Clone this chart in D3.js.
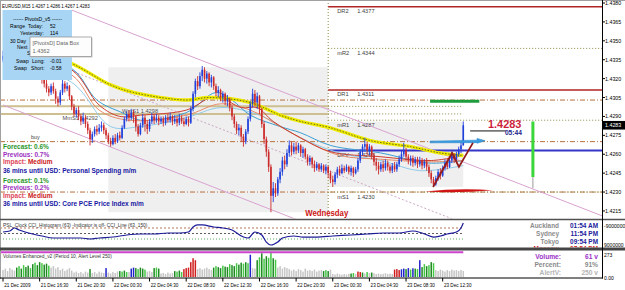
<!DOCTYPE html>
<html><head><meta charset="utf-8">
<script src="https://cdn.jsdelivr.net/npm/d3@7"></script>
<style>
html,body{margin:0;padding:0;background:#fff;overflow:hidden}
svg{display:block}
</style></head><body>
<svg id="c" width="625" height="290"></svg>
<script>
// ---------------- DATA ----------------
const closes = [
1.4338,1.4341,1.4345,1.4343,1.4347,1.4344,1.4340,1.4336,1.4338,1.4333,
1.4330,1.4334,1.4331,1.4327,1.4329,1.4325,1.4322,1.4320,1.4316,1.4312,
1.4309,1.4314,1.4310,1.4304,1.4301,1.4309,1.4316,1.4312,1.4314,1.4306,
1.4298,1.4292,1.4295,1.4290,1.4286,1.4289,1.4284,1.4279,1.4272,1.4276,
1.4280,1.4278,1.4281,1.4283,1.4279,1.4275,1.4270,1.4268,1.4273,1.4270,
1.4275,1.4273,1.4281,1.4288,1.4292,1.4289,1.4293,1.4290,1.4282,1.4276,
1.4283,1.4289,1.4284,1.4280,1.4286,1.4290,1.4287,1.4289,1.4286,1.4288,
1.4285,1.4289,1.4287,1.4290,1.4286,1.4288,1.4285,1.4289,1.4286,1.4284,
1.4288,1.4285,1.4296,1.4308,1.4318,1.4314,1.4322,1.4327,1.4320,1.4324,
1.4317,1.4321,1.4314,1.4309,1.4311,1.4305,1.4308,1.4302,1.4304,1.4297,
1.4290,1.4284,1.4279,1.4281,1.4274,1.4270,1.4278,1.4288,1.4300,1.4308,
1.4301,1.4306,1.4296,1.4284,1.4272,1.4262,1.4250,1.4227,1.4233,1.4229,
1.4240,1.4246,1.4255,1.4252,1.4261,1.4267,1.4262,1.4266,1.4263,1.4267,
1.4261,1.4264,1.4258,1.4254,1.4257,1.4252,1.4249,1.4252,1.4248,1.4251,
1.4247,1.4250,1.4245,1.4240,1.4238,1.4244,1.4248,1.4245,1.4249,1.4247,
1.4250,1.4246,1.4249,1.4245,1.4248,1.4255,1.4262,1.4266,1.4268,1.4263,
1.4266,1.4259,1.4254,1.4251,1.4248,1.4252,1.4249,1.4253,1.4250,1.4247,
1.4251,1.4248,1.4252,1.4256,1.4260,1.4263,1.4258,1.4255,1.4257,1.4253,
1.4256,1.4252,1.4255,1.4251,1.4254,1.4250,1.4245,1.4240,1.4236,1.4241,
1.4246,1.4243,1.4249,1.4253,1.4250,1.4255,1.4259,1.4256,1.4260,1.4264,
1.4267,1.4283];
const highs = [
1.4342,1.4344,1.4348,1.4349,1.4351,1.4349,1.4346,1.4342,1.4341,1.4339,
1.4335,1.4337,1.4336,1.4333,1.4332,1.4331,1.4327,1.4325,1.4322,1.4319,
1.4314,1.4316,1.4317,1.4312,1.4306,1.4311,1.4319,1.4318,1.4317,1.4315,
1.4307,1.4300,1.4297,1.4298,1.4292,1.4293,1.4291,1.4286,1.4281,1.4278,
1.4282,1.4283,1.4284,1.4286,1.4285,1.4281,1.4277,1.4273,1.4275,1.4276,
1.4277,1.4278,1.4283,1.4290,1.4294,1.4295,1.4296,1.4295,1.4291,1.4284,
1.4285,1.4292,1.4291,1.4287,1.4288,1.4293,1.4292,1.4292,1.4291,1.4290,
1.4290,1.4291,1.4292,1.4293,1.4291,1.4291,1.4290,1.4292,1.4291,1.4289,
1.4290,1.4290,1.4298,1.4310,1.4320,1.4322,1.4325,1.4330,1.4329,1.4326,
1.4325,1.4323,1.4322,1.4316,1.4314,1.4312,1.4310,1.4309,1.4307,1.4305,
1.4299,1.4292,1.4286,1.4284,1.4283,1.4276,1.4280,1.4290,1.4302,1.4312,
1.4311,1.4309,1.4307,1.4297,1.4286,1.4274,1.4264,1.4252,1.4238,1.4237,
1.4242,1.4249,1.4258,1.4259,1.4264,1.4271,1.4270,1.4269,1.4270,1.4269,
1.4268,1.4266,1.4265,1.4260,1.4259,1.4258,1.4255,1.4254,1.4253,1.4253,
1.4252,1.4252,1.4251,1.4247,1.4243,1.4246,1.4250,1.4251,1.4252,1.4251,
1.4252,1.4251,1.4251,1.4250,1.4250,1.4257,1.4264,1.4268,1.4273,1.4270,
1.4268,1.4267,1.4261,1.4257,1.4254,1.4254,1.4255,1.4256,1.4255,1.4252,
1.4253,1.4254,1.4254,1.4259,1.4263,1.4269,1.4265,1.4260,1.4259,1.4259,
1.4258,1.4258,1.4258,1.4257,1.4256,1.4257,1.4252,1.4247,1.4242,1.4243,
1.4248,1.4249,1.4251,1.4256,1.4256,1.4257,1.4262,1.4261,1.4262,1.4266,
1.4270,1.4286];
const lows = [
1.4333,1.4336,1.4339,1.4340,1.4342,1.4340,1.4337,1.4333,1.4332,1.4329,
1.4326,1.4328,1.4327,1.4323,1.4324,1.4321,1.4319,1.4316,1.4313,1.4309,
1.4306,1.4307,1.4308,1.4300,1.4298,1.4299,1.4307,1.4309,1.4310,1.4303,
1.4295,1.4290,1.4289,1.4287,1.4283,1.4284,1.4281,1.4276,1.4267,1.4269,
1.4274,1.4275,1.4276,1.4278,1.4276,1.4272,1.4268,1.4266,1.4267,1.4268,
1.4269,1.4271,1.4272,1.4280,1.4286,1.4286,1.4287,1.4285,1.4278,1.4274,
1.4275,1.4281,1.4278,1.4276,1.4278,1.4284,1.4284,1.4285,1.4283,1.4284,
1.4282,1.4283,1.4285,1.4285,1.4283,1.4284,1.4282,1.4283,1.4284,1.4282,
1.4283,1.4282,1.4284,1.4294,1.4305,1.4311,1.4312,1.4318,1.4317,1.4316,
1.4314,1.4313,1.4311,1.4306,1.4305,1.4302,1.4301,1.4299,1.4298,1.4294,
1.4287,1.4281,1.4276,1.4275,1.4270,1.4266,1.4268,1.4276,1.4286,1.4297,
1.4298,1.4296,1.4292,1.4281,1.4268,1.4258,1.4246,1.4214,1.4222,1.4226,
1.4227,1.4237,1.4243,1.4248,1.4250,1.4258,1.4259,1.4260,1.4260,1.4261,
1.4258,1.4257,1.4256,1.4251,1.4251,1.4249,1.4246,1.4247,1.4246,1.4246,
1.4245,1.4244,1.4241,1.4237,1.4234,1.4236,1.4241,1.4243,1.4244,1.4245,
1.4246,1.4244,1.4243,1.4242,1.4244,1.4246,1.4253,1.4259,1.4262,1.4260,
1.4259,1.4256,1.4251,1.4247,1.4244,1.4246,1.4246,1.4247,1.4247,1.4245,
1.4245,1.4246,1.4246,1.4250,1.4254,1.4258,1.4255,1.4252,1.4251,1.4250,
1.4251,1.4249,1.4250,1.4248,1.4249,1.4247,1.4242,1.4237,1.4234,1.4235,
1.4239,1.4240,1.4242,1.4247,1.4248,1.4249,1.4253,1.4253,1.4254,1.4258,
1.4261,1.4267];
const firstOpen = 1.4335;

const volumes = [
70,85,60,90,75,65,95,110,85,120,
100,115,90,130,145,120,150,140,125,135,
115,95,110,85,100,70,85,60,75,90,
65,45,55,40,50,35,55,45,80,40,
50,35,55,45,40,90,45,35,50,40,
55,60,55,65,50,50,85,95,90,80,
95,85,75,55,60,50,90,95,85,35,
40,30,45,35,40,60,55,65,50,80,
90,95,150,190,170,80,90,75,85,95,
80,70,95,110,100,90,115,105,100,130,
120,110,140,125,145,135,150,140,225,90,
85,170,200,240,185,210,195,255,190,175,
95,110,85,100,90,80,65,75,60,80,
70,55,85,65,70,60,75,55,65,70,
60,70,60,75,30,25,35,28,22,30,
25,32,35,40,30,55,50,45,35,50,
40,45,38,30,35,28,32,38,30,34,
29,75,80,70,78,85,80,90,75,88,
85,80,170,100,130,110,120,150,140,70,
60,75,65,55,70,60,75,65,70,60,
72,61];
// 0 normal, 1 rising, 2 rising (light), 3 climax low-range, 4 climax high
const volTypes = [
0,0,0,0,0,0,1,2,1,2, 1,1,2,1,2,1,1,2,1,1, 2,0,0,0,0,0,0,0,0,0,
0,0,0,0,0,0,0,0,1,0, 0,0,0,0,0,3,0,0,0,0, 0,1,2,1,2,0,3,3,1,2,
1,1,2,0,0,0,1,2,1,0, 0,0,0,0,0,1,2,1,2,4, 4,4,4,4,4,0,0,0,0,0,
0,0,1,2,1,1,2,1,1,2, 1,1,2,1,1,2,1,2,3,0, 0,1,2,1,2,1,2,2,1,2,
0,0,0,0,0,0,0,0,0,0, 0,0,0,0,0,0,0,0,0,0, 1,2,1,0,0,0,0,0,0,0,
0,0,1,2,0,4,4,1,0,2, 0,1,0,0,0,0,0,0,0,0, 0,4,4,4,3,3,1,3,2,3,
1,2,3,1,2,1,2,1,2,0, 0,0,0,0,0,0,0,0,0,0, 0,0];

const cciBars = [0,3,5,7,13,17,22,28,34,38,42,48,54,60,66,72,77,81,83,85,87,92,96,100,105,107,110,113,115,117,120,122,127,131,137,144,152,159,166,173,179,183,188,191,194,198,200,201];
const cciVals = [27,45,100,64,-9,-45,-82,-82,-82,-100,-82,-64,-27,-9,-9,9,9,27,118,155,155,118,100,64,-64,-82,27,-27,-155,-209,-155,-82,-45,-64,-64,-45,-27,-9,9,9,45,9,-64,-45,-9,27,100,191];
const cciLevels = [100, 0, -100];

// moving averages: [bar, price]
const maSlow  = [[0,1.4352],[30,1.4332],[47,1.4315],[57,1.4309],[80,1.4303],[90,1.4305],[108,1.4301],[121,1.4291],[130,1.4286],[143,1.4281],[160,1.4271],[178,1.4266],[191,1.4261],[201,1.4259]];
const maRed1  = [[0,1.4345],[30,1.4327],[42,1.4299],[51,1.4290],[60,1.4291],[80,1.4295],[93,1.4306],[104,1.4297],[111,1.4297],[118,1.4286],[130,1.4273],[143,1.4262],[165,1.4258],[187,1.4255],[201,1.4259]];
const maRed2  = [[0,1.4340],[30,1.4323],[42,1.4295],[55,1.4287],[80,1.4291],[95,1.4300],[108,1.4295],[121,1.4282],[134,1.4269],[147,1.4259],[165,1.4256],[186,1.4254],[201,1.4255]];
const maCyan1 = [[0,1.4342],[30,1.4328],[41,1.4303],[52,1.4293],[60,1.4287],[80,1.4293],[93,1.4309],[100,1.4303],[108,1.4291],[121,1.4282],[130,1.4277],[143,1.4267],[165,1.4261],[186,1.4253],[201,1.4255]];
const maCyan2 = [[0,1.4335],[30,1.4317],[47,1.4282],[60,1.4282],[80,1.4289],[95,1.4297],[112,1.4291],[130,1.4273],[147,1.4261],[165,1.4255],[182,1.4247],[201,1.4251]];

const pivotNames = ["DR2","mR2","DR1","mR1","DPV","mS1"];
const pivotVals  = [1.4377,1.4344,1.4311,1.4287,1.4263,1.4230];
const longNames  = ["WmS1","MmS1"];
const longVals   = [1.4298,1.4292];
const longLabelBars = [52,26];
const dashLevels = [1.4303,1.4270,1.4230];
const dayStartBar = 142;
const dayRanges = [[46,142,1.4329,1.4214],[142,201,1.4286,1.4234]];

const channelUpper = [[30,1.43744],[270,1.42052]];
const channelLower = [[0,1.42991],[140,1.41998]];
const channelMid   = [[0,1.43473],[199.6,1.42063]];

const zigzag    = [[187.8,1.4234],[196.1,1.4261],[199.1,1.4250],[205.2,1.4269]];
const greenSeg  = [[186.5,1.4302],[208,1.4302]];
const blueArrow = [[186.5,1.4270],[210.5,1.4270]];
const redSeg    = [[184.3,1.4231],[214,1.4231]];
const greenBar  = [231.4,1.4286,1.4242,1.4233];
const lastLine  = [[204,1.42785],[219.6,1.42785]];

const priceTicks = [1.4380,1.4365,1.4350,1.4335,1.4320,1.4305,1.4290,1.4275,1.4260,1.4245,1.4230,1.4215];
const lastPrice = 1.4283;
const timeLabels = ["21 Dec 2009","21 Dec 16:30","21 Dec 20:30","22 Dec 00:30","22 Dec 04:30","22 Dec 08:30","22 Dec 12:30","22 Dec 16:30","22 Dec 20:30","23 Dec 00:30","23 Dec 04:30","23 Dec 08:30","23 Dec 12:30"];
const timeLabelBars = [0,16,32,48,64,80,96,112,128,144,160,176,192];

const newsLines = [
 ["Forecast: ","0.6%","f"],["Previous: ","0.7%","p"],["Impact: ","Medium","i"],["36 mins until USD: Personal Spending m/m","","t"],
 ["Forecast: ","0.1%","f"],["Previous: ","0.2%","p"],["Impact: ","Medium","i"],["36 mins until USD: Core PCE Price Index m/m","","t"]];
const clockCities = ["Auckland","Sydney","Tokyo","Moscow"];
const clockTimes  = ["01:54 AM","11:54 PM","09:54 PM","07:54 PM"];

// ---------------- SCALES ----------------
const svg = d3.select("#c");
const FONT = '"Liberation Sans", Arial, sans-serif';
const xS = d3.scaleLinear().domain([0,201]).range([3,463.29]);
const yS = d3.scaleLinear().domain([1.42094,1.43824]).range([218,0]);
const cS = d3.scaleLinear().domain([-245,245]).range([247,220]);
const vS = d3.scaleLinear().domain([0,273]).range([277,250]);

function T(p,x,y,s,o={}){
  return p.append("text").attr("transform",`translate(${x},${y}) scale(${o.sx||1},1)`)
   .attr("font-family",FONT).attr("font-size",o.size||6).attr("fill",o.color||"#000")
   .attr("font-weight",o.weight||"normal").attr("text-anchor",o.anchor||"start").text(s);
}
const defs = svg.append("defs");
function clip(id,x,y,w,h){defs.append("clipPath").attr("id",id).append("rect").attr("x",x).attr("y",y).attr("width",w).attr("height",h);}
clip("cm",0,1,602,217.5); clip("cc",0,220.5,602,27); clip("cv",0,251,602,26.5);

svg.append("rect").attr("width",625).attr("height",290).attr("fill","#fff");

// ---------------- MAIN PANEL ----------------
const m = svg.append("g").attr("clip-path","url(#cm)");
dayRanges.forEach(r=>{
  m.append("rect").attr("x",xS(r[0])).attr("width",xS(r[1])-xS(r[0]))
   .attr("y",yS(r[2])).attr("height",yS(r[3])-yS(r[2])).attr("fill","#efefef");
});
m.append("line").attr("x1",xS(dayStartBar)).attr("x2",xS(dayStartBar)).attr("y1",0).attr("y2",218)
 .attr("stroke","#8c8c46").attr("stroke-dasharray","1,2");

// long-term pivots
longVals.forEach((v,k)=>{
  m.append("line").attr("x1",0).attr("x2",xS(dayStartBar)).attr("y1",yS(v)).attr("y2",yS(v))
   .attr("stroke","#cdbf90").attr("stroke-width",2);
  m.append("line").attr("x1",xS(dayStartBar)).attr("x2",xS(201)).attr("y1",yS(v)).attr("y2",yS(v))
   .attr("stroke","#8c8c46").attr("stroke-dasharray","1,2");
  T(m,xS(longLabelBars[k]),yS(v)+6.5,longNames[k]+"  "+v.toFixed(4),{size:6.2,sx:0.92,color:"#505050"});
});
// dash-dot levels
dashLevels.forEach(v=>{
  m.append("line").attr("x1",0).attr("x2",602).attr("y1",yS(v)).attr("y2",yS(v))
   .attr("stroke","#b8703c").attr("stroke-dasharray","5,2,1,2");
});
T(m,31,yS(dashLevels[1])-2.2,"buy",{size:6,sx:0.9,color:"#404040"});
// daily pivots
pivotNames.forEach((n,k)=>{
  const v=pivotVals[k], y=yS(v);
  const l=m.append("line").attr("x1",xS(dayStartBar)).attr("x2",602).attr("y1",y).attr("y2",y);
  if(n==="DPV") l.attr("stroke","#3535c8").attr("stroke-width",2);
  else if(n[0]==="D") l.attr("stroke","#b02525").attr("stroke-width",1.5);
  else l.attr("stroke","#8c8c46").attr("stroke-dasharray","1,2");
  T(m,xS(dayStartBar)+9,y+6.5,n,{size:6.2,sx:0.92,color:"#404040"});
  T(m,xS(dayStartBar)+29,y+6.5,v.toFixed(4),{size:6.2,sx:0.92,color:"#404040"});
});
// channel
const lg = d3.line().x(d=>xS(d[0])).y(d=>yS(d[1]));
m.append("path").attr("d",lg(channelUpper)).attr("stroke","#d8a2d0").attr("fill","none");
m.append("path").attr("d",lg(channelLower)).attr("stroke","#d8a2d0").attr("fill","none");
m.append("path").attr("d",lg(channelMid)).attr("stroke","#c9a9c4").attr("fill","none").attr("stroke-dasharray","2,2");

// MAs
const cg = d3.line().x(d=>xS(d[0])).y(d=>yS(d[1])).curve(d3.curveCatmullRom.alpha(0.5));
[[maCyan2,"#8fcbe8"],[maCyan1,"#3d9fd2"],[maRed2,"#e58b6b"],[maRed1,"#cc4030"]].forEach(([d,c])=>{
  m.append("path").attr("d",cg(d)).attr("stroke",c).attr("fill","none").attr("stroke-width",1);
});
m.append("path").attr("d",cg(maSlow)).attr("stroke","#efeb00").attr("fill","none").attr("stroke-width",3.4);
m.append("path").attr("d",cg(maSlow)).attr("stroke","#4a4a20").attr("fill","none").attr("stroke-width",0.8).attr("stroke-dasharray","1.5,1.5");

// candles
const bars = closes.map((c,i)=>({i,o:i?closes[i-1]:firstOpen,c,h:highs[i],l:lows[i]}));
const cd = m.append("g");
bars.forEach(b=>{
  const col = b.c>=b.o ? "#2040dc" : "#cc2a2a";
  const x = xS(b.i);
  cd.append("line").attr("x1",x).attr("x2",x).attr("y1",yS(Math.max(b.h,b.o,b.c))).attr("y2",yS(Math.min(b.l,b.o,b.c)))
    .attr("stroke",col).attr("stroke-width",0.9);
  const yt=yS(Math.max(b.o,b.c)), yb=yS(Math.min(b.o,b.c));
  cd.append("rect").attr("x",x-0.8).attr("width",1.6).attr("y",yt).attr("height",Math.max(0.8,yb-yt)).attr("fill",col);
});

// drawn objects
m.append("path").attr("d",lg(greenSeg)).attr("stroke","#1f9c3e").attr("stroke-width",3).attr("fill","none");
{
  const y=yS(blueArrow[0][1]), xa=xS(blueArrow[0][0]), xt=xS(blueArrow[1][0]), xh=xt-8;
  m.append("path").attr("d",`M${xa},${y-0.5} L${xh},${y-1.5} L${xh},${y-3.2} L${xt},${y-1} L${xh},${y+1.6} L${xh},${y+1} L${xa},${y+1.2} Z`)
   .attr("fill","#3a9ee0").attr("stroke","#2a86cc").attr("stroke-width",0.6);
}
{
  const y=yS(redSeg[0][1]), xa=xS(redSeg[0][0]), xb=xS(redSeg[1][0]);
  m.append("path").attr("d",`M${xa},${y+0.8} Q${(xa+xb)/2},${y-3.2} ${xb},${y-0.6} Q${(xa+xb)/2},${y+2.4} ${xa},${y+0.8} Z`)
   .attr("fill","#d01414");
}
m.append("path").attr("d",lg(zigzag)).attr("stroke","#951c1c").attr("stroke-width",1.8).attr("fill","none");
m.append("line").attr("x1",xS(greenBar[0])).attr("x2",xS(greenBar[0])).attr("y1",yS(greenBar[2])).attr("y2",yS(greenBar[3]))
 .attr("stroke","#9a9a9a").attr("stroke-width",1);
m.append("line").attr("x1",xS(greenBar[0])).attr("x2",xS(greenBar[0])).attr("y1",yS(greenBar[1])).attr("y2",yS(greenBar[2]))
 .attr("stroke","#3ad63a").attr("stroke-width",3);
m.append("path").attr("d",lg(lastLine)).attr("stroke","#111").attr("stroke-width",1);
T(m,xS(211.8),yS(lastPrice)+2.8,lastPrice.toFixed(4),{size:11.5,weight:"bold",color:"#cc1f3c",sx:0.95});
T(m,xS(219.6)-1,yS(lastLine[0][1])+4.3,"05:44",{size:6.8,weight:"bold",color:"#1e1e8e",sx:0.98});

T(m,xS(dayStartBar)-23,216,"Wednesday",{size:8.2,weight:"bold",color:"#cc1414",sx:0.95});

// news
const newsY=[149,156.5,164,172.5,182.5,189.5,198,205.5];
const newsCol={f:["#2a962a","#2a962a"],p:["#9c2fc0","#9c2fc0"],i:["#e0485a","#cc2020"],t:["#1818a4","#1818a4"]};
newsLines.forEach((n,k)=>{
  const t=T(m,3,newsY[k],"",{size:7,weight:"bold",sx:0.93});
  t.append("tspan").attr("fill",newsCol[n[2]][0]).text(n[0]);
  if(n[1]) t.append("tspan").attr("fill",newsCol[n[2]][1]).text(n[1]);
});

// info box
m.append("rect").attr("x",2.5).attr("y",10).attr("width",69.5).attr("height",70).attr("fill","#a8d5f3");
const bx = m.append("g");
T(bx,37.5,20.7,"------  PivotsD_v5  ------",{size:6,anchor:"middle",sx:0.85});
T(bx,10,28,"Range",{size:6,sx:0.85}); T(bx,28,28,"Today:",{size:6,sx:0.85}); T(bx,50,28,"52",{size:6,sx:0.85});
T(bx,20,35,"Yesterday:",{size:6,sx:0.85}); T(bx,50,35,"114",{size:6,sx:0.85});
T(bx,10,42.5,"30 Day",{size:6,sx:0.85});
T(bx,17,48.5,"Next",{size:6,sx:0.85});
T(bx,27,55,"S",{size:6,sx:0.85});
T(bx,16,63,"Swap",{size:6,sx:0.85}); T(bx,32,63,"Long:",{size:6,sx:0.85}); T(bx,50,63,"-0.01",{size:6,sx:0.85});
T(bx,14,69.5,"Swap",{size:6,sx:0.85}); T(bx,31,69.5,"Short:",{size:6,sx:0.85}); T(bx,50,69.5,"-0.58",{size:6,sx:0.85});
// tooltip
m.append("rect").attr("x",31).attr("y",38).attr("width",61.5).attr("height",19.5).attr("fill","#c8c8c8");
m.append("rect").attr("x",30).attr("y",37).attr("width",61.5).attr("height",19.5).attr("fill","#fdfdfd").attr("stroke","#8a8a8a").attr("stroke-width",0.7);
T(m,32.5,44.5,"[PivotsD] Data Box",{size:6.2,sx:0.9,color:"#666"});
T(m,32.5,52.5,"1.4362",{size:6.2,sx:0.9,color:"#666"});
// title
T(svg,2,7.5,"EURUSD,M15  1.4267 1.4286 1.4267 1.4283",{size:6,sx:0.74,color:"#000"});

// ---------------- CCI PANEL ----------------
const cc = svg.append("g").attr("clip-path","url(#cc)");
const cciCols=["#a0522d","#333","#3a9a3a"];
cciLevels.forEach((v,k)=>{
  cc.append("line").attr("x1",0).attr("x2",xS(201)).attr("y1",cS(v)).attr("y2",cS(v))
    .attr("stroke",cciCols[k]).attr("stroke-dasharray",k==2?"1,2":"2,2").attr("stroke-width",0.8);
});
cc.append("path").attr("d",d3.line().x((d,i)=>xS(cciBars[i])).y(d=>cS(d)).curve(d3.curveMonotoneX)(cciVals))
  .attr("stroke","#1a1a98").attr("stroke-width",1.2).attr("fill","none");
T(cc,3,226.5,"PSL_Clock   CCI_Histogram (63)   -Indicator is off-   CCI_Line (63, 150)",{size:5.6,sx:0.86,color:"#333"});
clockCities.forEach((c,k)=>{
  const y=228.3+k*7.6;
  T(cc,559,y,c,{size:7,weight:"bold",anchor:"end",sx:0.92,color:k==3?"#cc2222":"#8c8c8c"});
  T(cc,598,y,clockTimes[k],{size:7,weight:"bold",anchor:"end",sx:0.92,color:k==3?"#cc2222":"#1c1c9c"});
});

// ---------------- VOLUME PANEL ----------------
const vv = svg.append("g").attr("clip-path","url(#cv)");
const vCols=["#c6c6c6","#1f8a22","#45c945","#2222cc","#d01e1e"];
volumes.forEach((v,i)=>{
  vv.append("rect").attr("x",xS(i)-0.75).attr("width",1.5).attr("y",vS(v)).attr("height",vS(0)-vS(v)).attr("fill",vCols[volTypes[i]]);
});
vv.append("line").attr("x1",0).attr("x2",xS(201)).attr("y1",vS(250)).attr("y2",vS(250)).attr("stroke","#cc44cc").attr("stroke-width",2);
T(vv,3,258,"Volumes Enhanced_v2  (Period 10, Alert Level 250)",{size:5.6,sx:0.86,color:"#333"});
[["Volume:","61 v","#9b30c8"],["Percent:","91%","#8a8a8a"],["AlertV:","250 v","#b4b4b4"]].forEach((r,k)=>{
  const y=259+k*7.8;
  T(vv,561,y,r[0],{size:7,weight:"bold",anchor:"end",sx:0.95,color:r[2]});
  T(vv,598,y,r[1],{size:7,weight:"bold",anchor:"end",sx:0.95,color:r[2]});
});

// ---------------- FRAME & AXES ----------------
svg.append("line").attr("x1",0).attr("x2",625).attr("y1",0.5).attr("y2",0.5).attr("stroke","#a0a0a0");
svg.append("line").attr("x1",0.5).attr("x2",0.5).attr("y1",0).attr("y2",279).attr("stroke","#a0a0a0");
svg.append("line").attr("x1",0).attr("x2",625).attr("y1",219.5).attr("y2",219.5).attr("stroke","#505050").attr("stroke-width",1.6);
svg.append("line").attr("x1",0).attr("x2",625).attr("y1",249).attr("y2",249).attr("stroke","#454545").attr("stroke-width",3);
svg.append("line").attr("x1",0).attr("x2",603).attr("y1",278).attr("y2",278).attr("stroke","#000").attr("stroke-width",1);
svg.append("line").attr("x1",602.5).attr("x2",602.5).attr("y1",0).attr("y2",278.5).attr("stroke","#000").attr("stroke-width",1);

priceTicks.forEach(v=>{
  svg.append("line").attr("x1",602).attr("x2",605).attr("y1",yS(v)).attr("y2",yS(v)).attr("stroke","#000");
  T(svg,605,yS(v)+2,v.toFixed(4),{size:5.6,sx:0.95});
});
svg.append("rect").attr("x",603).attr("y",yS(lastPrice)-4.3).attr("width",22).attr("height",8.6).attr("fill","#000");
T(svg,605,yS(lastPrice)+2.2,lastPrice.toFixed(4),{size:5.6,sx:0.95,color:"#fff"});

T(svg,604,227.5,"-9000000",{size:5.6,sx:0.9});
T(svg,604,246.5,"9000000",{size:5.6,sx:0.9});
T(svg,604,257,"273",{size:5.6,sx:0.9});
T(svg,604,279.5,"0.00",{size:5.6,sx:0.9});

timeLabelBars.forEach((b,k)=>{
  svg.append("line").attr("x1",xS(b)).attr("x2",xS(b)).attr("y1",278).attr("y2",281.5).attr("stroke","#000");
  T(svg,xS(b)+1.2,286.5,timeLabels[k],{size:5.8,sx:0.8});
});
</script>
</body></html>
